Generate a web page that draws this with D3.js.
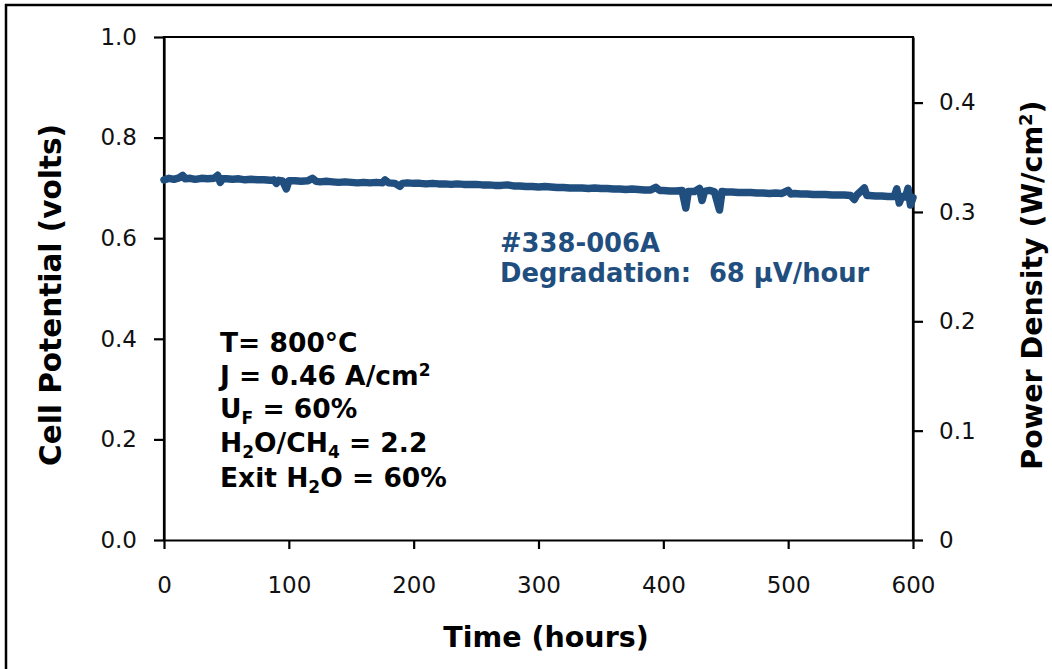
<!DOCTYPE html>
<html>
<head>
<meta charset="utf-8">
<script src="https://cdn.jsdelivr.net/npm/d3@7"></script>
<style>
  html, body { margin: 0; padding: 0; background: #fff; }
  svg { display: block; }
  text { font-family: "DejaVu Sans", Verdana, sans-serif; }
</style>
</head>
<body>
<svg id="chart" width="1052" height="669"></svg>
<script>
// ---- data ----
const hours = [0,4,8,12,15,17,21,25,30,35,40,43,45,47,50,55,60,65,70,75,80,85,88,90,92,95,98,100,105,110,115,119,122,125,130,135,140,145,150,155,160,165,170,175,177,180,185,189,191,195,200,205,210,215,220,225,230,235,240,245,250,255,260,265,270,275,280,285,290,295,300,305,310,315,320,325,330,335,340,345,350,355,360,365,370,375,380,385,390,394,397,400,405,410,415,418,420,425,429,431,433,437,441,445,447,450,455,460,465,470,475,480,485,490,495,500,502,505,510,515,520,525,530,535,540,545,550,553,555,558,561,563,565,570,575,580,585,587,589,591,594,596,598,600];
const volts = [0.716,0.719,0.717,0.720,0.725,0.718,0.719,0.717,0.719,0.718,0.719,0.725,0.711,0.718,0.718,0.717,0.718,0.716,0.717,0.716,0.716,0.715,0.716,0.709,0.715,0.714,0.698,0.714,0.714,0.713,0.714,0.719,0.713,0.712,0.713,0.712,0.711,0.712,0.711,0.710,0.711,0.710,0.711,0.710,0.716,0.710,0.709,0.703,0.709,0.710,0.709,0.709,0.708,0.709,0.708,0.708,0.707,0.708,0.707,0.707,0.707,0.706,0.706,0.705,0.705,0.706,0.704,0.704,0.703,0.703,0.702,0.703,0.702,0.701,0.701,0.700,0.700,0.700,0.699,0.700,0.699,0.699,0.698,0.698,0.697,0.698,0.697,0.696,0.696,0.701,0.695,0.695,0.694,0.694,0.695,0.660,0.693,0.693,0.699,0.675,0.693,0.695,0.692,0.656,0.693,0.692,0.692,0.691,0.691,0.691,0.690,0.690,0.689,0.690,0.689,0.695,0.688,0.689,0.688,0.688,0.687,0.687,0.687,0.686,0.686,0.686,0.685,0.677,0.686,0.693,0.700,0.685,0.685,0.684,0.684,0.683,0.683,0.698,0.670,0.683,0.682,0.699,0.666,0.681];

const xTicks = [0,100,200,300,400,500,600];
const yTicks = [0,0.2,0.4,0.6,0.8,1.0];
const y2Ticks = [0,0.1,0.2,0.3,0.4];

const sampleLabel = "#338-006A";
const degradationLabel = "Degradation:  68 µV/hour";

// ---- layout ----
const svg = d3.select("#chart");
const L = 164, R = 913, T = 37, B = 540;
const lineColor = "#1f4e7f";

// outer frame
svg.append("rect").attr("x", 6).attr("y", 5).attr("width", 1100).attr("height", 700)
  .attr("fill", "none").attr("stroke", "#000").attr("stroke-width", 2.5);

const x = d3.scaleLinear().domain([0, 600]).range([L, R]);
const y = d3.scaleLinear().domain([0, 1.0]).range([B, T]);
const y2 = d3.scaleLinear().domain([0, 0.46]).range([B, T]);

// plot box top line
svg.append("line").attr("x1", L).attr("x2", R).attr("y1", T).attr("y2", T)
  .attr("stroke", "#000").attr("stroke-width", 2.2);

// axes
const xAxis = svg.append("g").attr("transform", `translate(0,${B})`)
  .call(d3.axisBottom(x).tickValues(xTicks).tickSize(9).tickPadding(28).tickSizeOuter(0));
const yAxis = svg.append("g").attr("transform", `translate(${L},0)`)
  .call(d3.axisLeft(y).tickValues(yTicks).tickFormat(d3.format(".1f")).tickSize(10).tickPadding(17).tickSizeOuter(0));
const y2Axis = svg.append("g").attr("transform", `translate(${R},0)`)
  .call(d3.axisRight(y2).tickValues(y2Ticks).tickFormat(d => d === 0 ? "0" : d3.format(".1f")(d)).tickSize(10).tickPadding(16).tickSizeOuter(0));

[xAxis, yAxis, y2Axis].forEach(g => {
  g.select(".domain").attr("stroke", "#000").attr("stroke-width", 2.2);
  g.selectAll(".tick line").attr("stroke", "#000").attr("stroke-width", 2.2);
  g.selectAll(".tick text").attr("fill", "#111").style("font-size", "23px")
    .style("font-family", '"DejaVu Sans", Verdana, sans-serif');
});
svg.append("line").attr("x1", L).attr("x2", L).attr("y1", T - 1).attr("y2", B + 1).attr("stroke", "#000").attr("stroke-width", 2.2);
svg.append("line").attr("x1", R).attr("x2", R).attr("y1", T - 1).attr("y2", B + 1).attr("stroke", "#000").attr("stroke-width", 2.2);

// data line
const pts = hours.map((h, i) => [h, volts[i]]);
svg.append("path").datum(pts)
  .attr("fill", "none").attr("stroke", lineColor).attr("stroke-width", 7.5)
  .attr("stroke-linejoin", "round").attr("stroke-linecap", "round")
  .attr("d", d3.line().x(d => x(d[0])).y(d => y(d[1])));

// axis titles
svg.append("text").attr("x", 546).attr("y", 647).attr("text-anchor", "middle")
  .style("font-size", "28.5px").style("font-weight", "bold").text("Time (hours)");

svg.append("text").attr("transform", "translate(61,295) rotate(-90)").attr("text-anchor", "middle")
  .style("font-size", "29.5px").style("font-weight", "bold").text("Cell Potential (volts)");

const rt = svg.append("text").attr("transform", "translate(1042,285) rotate(-90)").attr("text-anchor", "middle")
  .style("font-size", "28.5px").style("font-weight", "bold");
rt.append("tspan").text("Power Density (W/cm");
rt.append("tspan").attr("dy", -10).style("font-size", "18px").text("2");
rt.append("tspan").attr("dy", 10).text(")");

// blue annotation
svg.append("text").attr("x", 500).attr("y", 252).attr("fill", lineColor)
  .style("font-size", "25.8px").style("font-weight", "bold").text(sampleLabel);
svg.append("text").attr("x", 500).attr("y", 282).attr("fill", lineColor)
  .style("font-size", "25.8px").style("font-weight", "bold").style("white-space", "pre")
  .attr("xml:space", "preserve").text(degradationLabel);

// conditions annotation
const cx = 220, fs = "26.5px", sub = "17px";
svg.append("text").attr("x", cx).attr("y", 352).style("font-size", fs).style("font-weight", "bold").text("T= 800°C");
const c2 = svg.append("text").attr("x", cx).attr("y", 385).style("font-size", fs).style("font-weight", "bold");
c2.append("tspan").text("J = 0.46 A/cm");
c2.append("tspan").attr("dy", -9).style("font-size", sub).text("2");
const c3 = svg.append("text").attr("x", cx).attr("y", 418).style("font-size", fs).style("font-weight", "bold");
c3.append("tspan").text("U");
c3.append("tspan").attr("dy", 6).style("font-size", sub).text("F");
c3.append("tspan").attr("dy", -6).text(" = 60%");
const c4 = svg.append("text").attr("x", cx).attr("y", 452).style("font-size", fs).style("font-weight", "bold");
c4.append("tspan").text("H");
c4.append("tspan").attr("dy", 6).style("font-size", sub).text("2");
c4.append("tspan").attr("dy", -6).text("O/CH");
c4.append("tspan").attr("dy", 6).style("font-size", sub).text("4");
c4.append("tspan").attr("dy", -6).text(" = 2.2");
const c5 = svg.append("text").attr("x", cx).attr("y", 487).style("font-size", fs).style("font-weight", "bold");
c5.append("tspan").text("Exit H");
c5.append("tspan").attr("dy", 6).style("font-size", sub).text("2");
c5.append("tspan").attr("dy", -6).text("O = 60%");
</script>
</body>
</html>
